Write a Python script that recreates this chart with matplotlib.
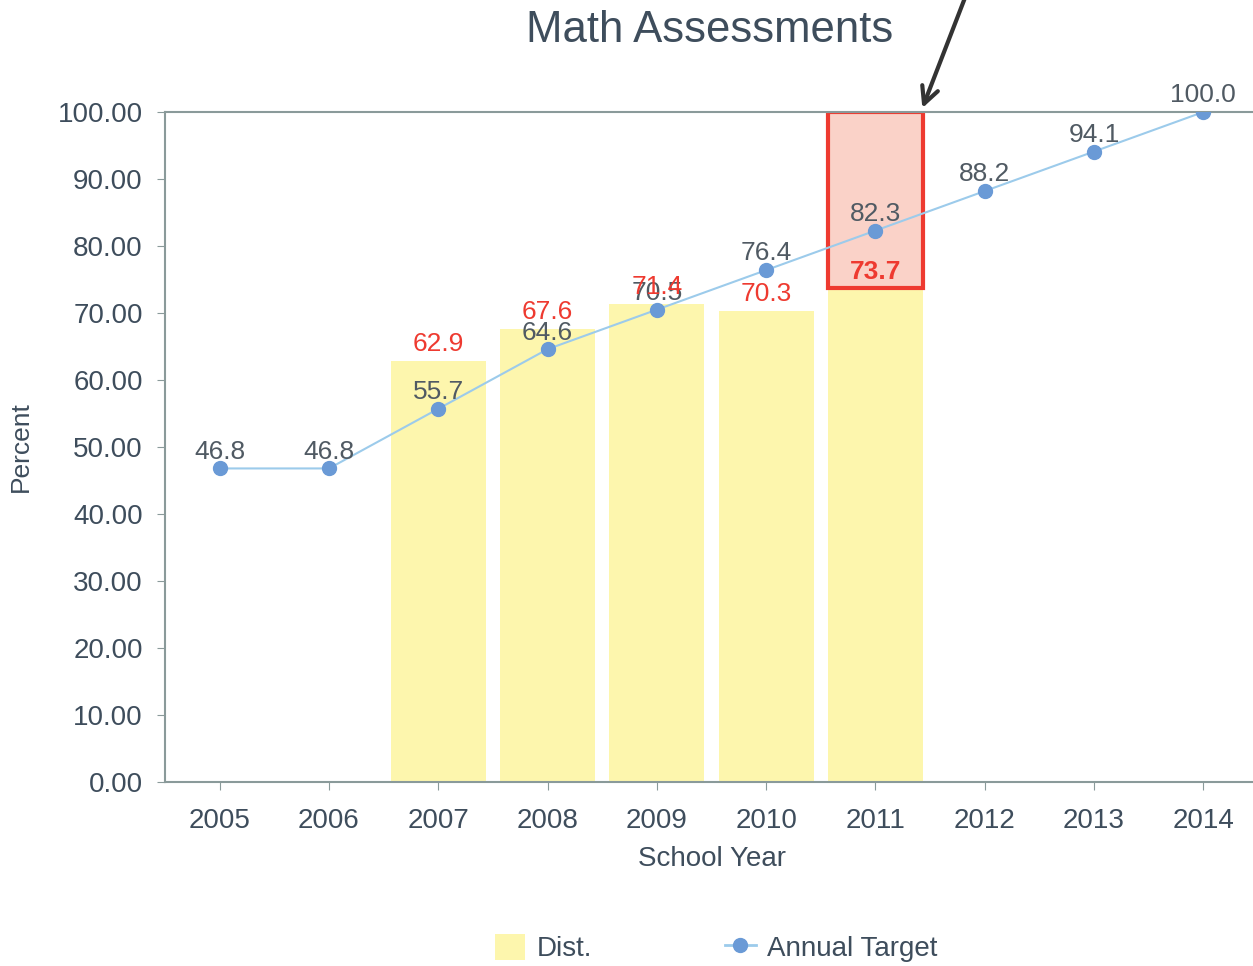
import matplotlib
matplotlib.use('Agg')
import matplotlib.pyplot as plt
from matplotlib.patches import Patch, Rectangle
from matplotlib.lines import Line2D
import numpy as np

plt.rcParams['font.family'] = ['Liberation Sans', 'DejaVu Sans']

years = ['2005', '2006', '2007', '2008', '2009', '2010', '2011', '2012', '2013', '2014']
dist = [None, None, 62.9, 67.6, 71.4, 70.3, 73.7, None, None, None]
target = [46.8, 46.8, 55.7, 64.6, 70.5, 76.4, 82.3, 88.2, 94.1, 100.0]
yticks = [0, 10, 20, 30, 40, 50, 60, 70, 80, 90, 100]

bar_color = '#fdf6ad'
line_color = '#9ccbeb'
marker_color = '#6a9ad6'
text_color = '#3e4d5c'
red = '#ee3a30'

fig = plt.figure(figsize=(12.53, 9.66), dpi=100)
ax = fig.add_axes([165 / 1253, 184 / 966, 1093 / 1253, 670 / 966])

x = np.arange(len(years))
bar_x = [i for i, v in enumerate(dist) if v is not None]
bar_v = [v for v in dist if v is not None]
ax.bar(bar_x, bar_v, width=0.87, color=bar_color, zorder=1)

# highlighted gap for 2011
hl = years.index('2011')
ax.add_patch(Rectangle((hl - 0.435, dist[hl]), 0.87, 100 - dist[hl],
                       facecolor='#fad2c8', edgecolor=red, lw=3, zorder=2))

ax.plot(x, target, color=line_color, lw=1.5, marker='o', markersize=10,
        markerfacecolor=marker_color, markeredgecolor=marker_color, zorder=3)

for i, v in enumerate(target):
    ax.annotate(f'{v:.1f}', (i, v), xytext=(0, 12), textcoords='offset points',
                ha='center', va='center', fontsize=19, color='#505a63', zorder=4)
for i, v in zip(bar_x, bar_v):
    ax.annotate(f'{v:.1f}', (i, v), xytext=(0, 12), textcoords='offset points',
                ha='center', va='center', fontsize=19, color=red, zorder=4,
                fontweight='bold' if i == hl else 'normal')

ax.set_xlim(-0.5, 9.5)
ax.set_ylim(0, 100)
ax.set_xticks(x)
ax.set_xticklabels(years)
ax.set_yticks(yticks)
ax.set_yticklabels([f'{t:.2f}' for t in yticks])
ax.tick_params(labelsize=20, colors='#8a9a9a', labelcolor=text_color, length=6, pad=10)
ax.tick_params(axis='x', pad=13)
for s in ['left', 'bottom', 'top']:
    ax.spines[s].set_color('#8a9a9a')
    ax.spines[s].set_linewidth(1.5)
ax.spines['right'].set_visible(False)

ax.set_xlabel('School Year', fontsize=20, color=text_color, labelpad=8)
ax.set_ylabel('Percent', fontsize=19, color=text_color, labelpad=18)
fig.text(710 / 1253, 1 - 30 / 966, 'Math Assessments', fontsize=31.5, color=text_color,
         ha='center', va='center')

# arrow pointing at the 2011 gap
ax.annotate('', xy=(hl + 0.42, 100.2), xytext=(hl + 0.83, 117.5),
            arrowprops=dict(arrowstyle='->', color='#333333', lw=3, mutation_scale=30),
            annotation_clip=False)

handles = [Patch(facecolor=bar_color, edgecolor='none'),
           Line2D([0], [0], color=line_color, lw=2, marker='o', markersize=10,
                  markerfacecolor=marker_color, markeredgecolor=marker_color)]
fig.legend(handles, ['Dist.', 'Annual Target'], loc='center', ncol=2,
           bbox_to_anchor=(716 / 1253, 1 - 948 / 966), frameon=False,
           fontsize=20, columnspacing=4.8, handlelength=1.1, handleheight=1.1,
           handletextpad=0.4, labelcolor=text_color)

fig.savefig('out.png', dpi=100)
